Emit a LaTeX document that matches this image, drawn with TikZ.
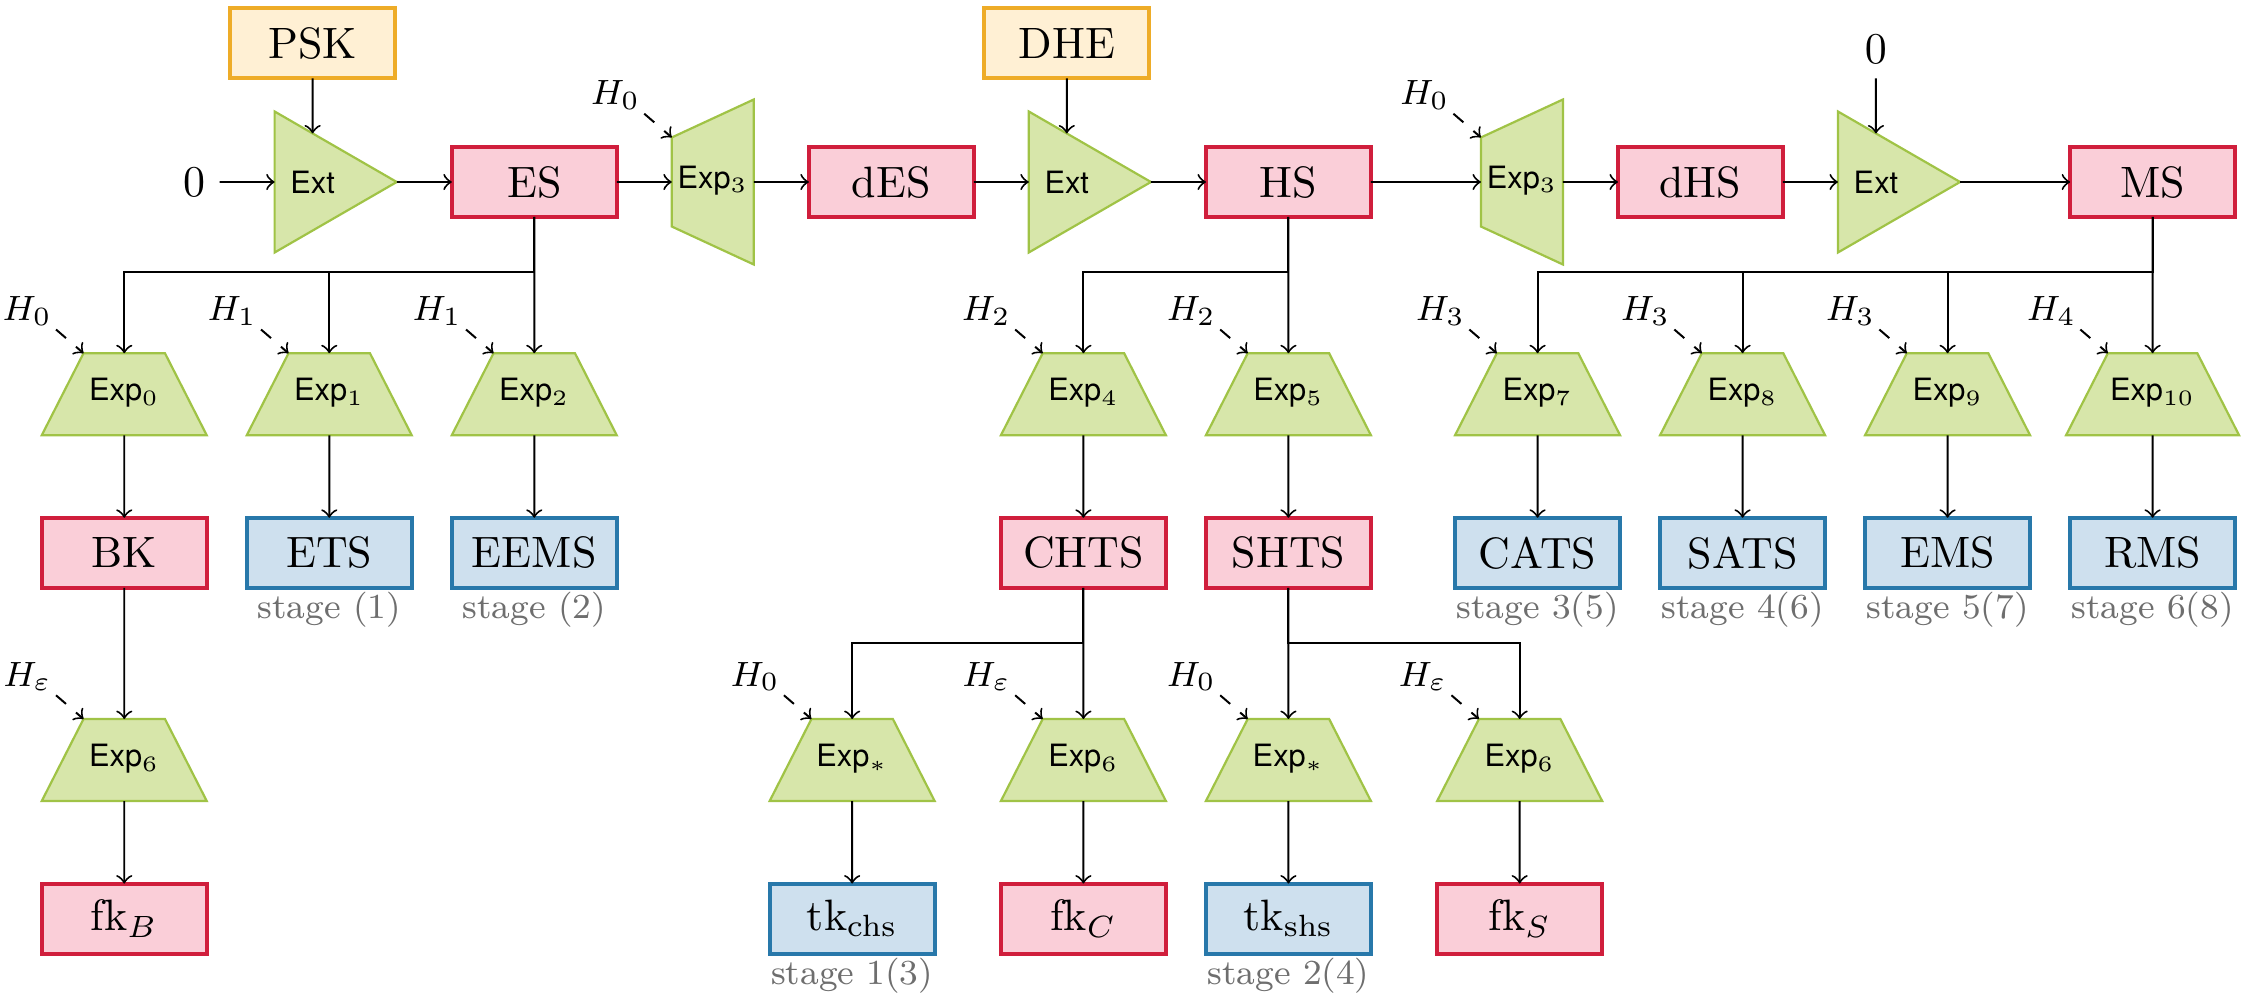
\documentclass[tikz,border=0pt]{standalone}
\usepackage{amsmath}
\usepackage{fontspec}
\setsansfont{TeX Gyre Heros}
\usepackage{tikz}
\usetikzlibrary{arrows,positioning,shapes.geometric}

\definecolor{infill}{RGB}{255,240,212}
\definecolor{indraw}{RGB}{238,172,40}
\definecolor{secfill}{RGB}{250,206,216}
\definecolor{secdraw}{RGB}{208,30,60}
\definecolor{trfill}{RGB}{206,224,238}
\definecolor{trdraw}{RGB}{40,120,170}
\definecolor{fnfill}{RGB}{215,230,170}
\definecolor{fndraw}{RGB}{160,195,70}
\definecolor{stgray}{RGB}{110,110,110}

\begin{document}
\begin{tikzpicture}[
	> = to, % arrow head style
	node distance = 0.44cm, % distance between nodes
	line width = 0.45pt, % line style
	every node/.style={outer sep=0pt},
	In/.style={rectangle, draw=indraw, fill=infill, line width=0.9pt, minimum width=1.32cm, minimum height=0.56cm},
	Sec/.style={In, draw=secdraw, fill=secfill},
	Tr/.style={In, draw=trdraw, fill=trfill},
	Ext/.style={isosceles triangle, isosceles triangle apex angle=60, draw=fndraw, fill=fnfill, line width=0.5pt, minimum width=0.977cm, minimum height=0.977cm, font=\scriptsize\sffamily},
	Exp/.style={trapezium, trapezium angle=63, trapezium stretches body, draw=fndraw, fill=fnfill, line width=0.5pt, text height=5pt, text depth=2pt, inner xsep=0.5pt, inner ysep=5.83pt, minimum width=1.32cm, minimum height=0.656cm, font=\scriptsize\sffamily},
	ExpR/.style={Exp, shape border rotate=90},
	Hl/.style={inner sep=1pt, font=\footnotesize},
	St/.style={inner sep=1pt, font=\footnotesize, text=stgray},
	]

	\useasboundingbox (-1.552,1.456) rectangle (16.456,-6.52);

	% Nodes of the main line
	\node (zero) {$0$};
	\node[Ext]  (ext1)  [right = of zero] {Ext};
	\node[In]   (psk)   [above = of ext1] {PSK};
	\node[Sec]  (es)    [right = of ext1] {ES};
	\node[ExpR] (exp3a) [right = of es] {Exp$_3$};
	\node[Sec]  (des)   [right = of exp3a] {dES};
	\node[Ext]  (ext2)  [right = of des] {Ext};
	\node[In]   (dhe)   [above = of ext2] {DHE};
	\node[Sec]  (hs)    [right = of ext2] {HS};
	\node[ExpR] (exp3b) [right = .88 of hs] {Exp$_3$};
	\node[Sec]  (dhs)   [right = of exp3b] {dHS};
	\node[Ext]  (ext3)  [right = of dhs] {Ext};
	\node       (zeroB) [above = of ext3] {$0$};
	\node[Sec]  (ms)    [right = .88 of ext3] {MS};

	% ES branch
	\node[Exp] (exp2)  [below = 1.09 of es] {Exp$_2$};
	\node[Tr]  (eems)  [below = .66 of exp2] {EEMS};
	\node[Tr]  (ets)   [left = .32 of eems] {ETS};
	\node[Sec] (bk)    [left = .32 of ets] {BK};
	\node[Exp] (exp1)  [above = .66 of ets] {Exp$_1$};
	\node[Exp] (exp0)  [above = .66 of bk] {Exp$_0$};
	\node[Exp] (exp6b) [below = 1.05 of bk] {Exp$_6$};
	\node[Sec] (fkb)   [below = .66 of exp6b] {fk$_B$};

	% HS branch
	\node[Exp] (exp5)  [below = 1.09 of hs] {Exp$_5$};
	\node[Sec] (shts)  [below = .66 of exp5] {SHTS};
	\node[Sec] (chts)  [left = .32 of shts] {CHTS};
	\node[Exp] (exp4)  [above = .66 of chts] {Exp$_4$};
	\node[Exp] (exp6c) [below = 1.05 of chts] {Exp$_6$};
	\node[Sec] (fkc)   [below = .66 of exp6c] {fk$_C$};
	\node[Tr]  (tkc)   [left = .53 of fkc] {tk$_{\text{chs}}$};
	\node[Exp] (expsc) [above = .66 of tkc] {Exp$_*$};
	\node[Exp] (expss) [below = 1.05 of shts] {Exp$_*$};
	\node[Tr]  (tks)   [below = .66 of expss] {tk$_{\text{shs}}$};
	\node[Sec] (fks)   [right = .53 of tks] {fk$_S$};
	\node[Exp] (exp6s) [above = .66 of fks] {Exp$_6$};

	% MS branch
	\node[Exp] (exp10) [below = 1.09 of ms] {Exp$_{10}$};
	\node[Tr]  (rms)   [below = .66 of exp10] {RMS};
	\node[Tr]  (ems)   [left = .32 of rms] {EMS};
	\node[Tr]  (sats)  [left = .32 of ems] {SATS};
	\node[Tr]  (cats)  [left = .32 of sats] {CATS};
	\node[Exp] (exp9)  [above = .66 of ems] {Exp$_9$};
	\node[Exp] (exp8)  [above = .66 of sats] {Exp$_8$};
	\node[Exp] (exp7)  [above = .66 of cats] {Exp$_7$};

	% Stages under the traffic keys
	\node[St] (st1)  [below = 0 of ets]  {stage (1)};
	\node[St] (st2)  [below = 0 of eems] {stage (2)};
	\node[St] (st13) [below = 0 of tkc]  {stage 1(3)};
	\node[St] (st24) [below = 0 of tks]  {stage 2(4)};
	\node[St] (st35) [below = 0 of cats] {stage 3(5)};
	\node[St] (st46) [below = 0 of sats] {stage 4(6)};
	\node[St] (st57) [below = 0 of ems]  {stage 5(7)};
	\node[St] (st68) [below = 0 of rms]  {stage 6(8)};

	% Labels of the expand steps
	\node[Hl] (hA) [above left = .19 and .22 of exp3a.top right corner] {$H_0$};
	\node[Hl] (hB) [above left = .19 and .22 of exp3b.top right corner] {$H_0$};
	\node[Hl] (h0) [above left = .19 and .22 of exp0.top left corner]  {$H_0$};
	\node[Hl] (h1) [above left = .19 and .22 of exp1.top left corner]  {$H_1$};
	\node[Hl] (h2) [above left = .19 and .22 of exp2.top left corner]  {$H_1$};
	\node[Hl] (h4) [above left = .19 and .22 of exp4.top left corner]  {$H_2$};
	\node[Hl] (h5) [above left = .19 and .22 of exp5.top left corner]  {$H_2$};
	\node[Hl] (h7) [above left = .19 and .22 of exp7.top left corner]  {$H_3$};
	\node[Hl] (h8) [above left = .19 and .22 of exp8.top left corner]  {$H_3$};
	\node[Hl] (h9) [above left = .19 and .22 of exp9.top left corner]  {$H_3$};
	\node[Hl] (h10) [above left = .19 and .22 of exp10.top left corner] {$H_4$};
	\node[Hl] (h6b) [above left = .19 and .22 of exp6b.top left corner] {$H_\varepsilon$};
	\node[Hl] (h6c) [above left = .19 and .22 of exp6c.top left corner] {$H_\varepsilon$};
	\node[Hl] (h6s) [above left = .19 and .22 of exp6s.top left corner] {$H_\varepsilon$};
	\node[Hl] (hsc) [above left = .19 and .22 of expsc.top left corner] {$H_0$};
	\node[Hl] (hss) [above left = .19 and .22 of expss.top left corner] {$H_0$};

	% Paths along the main line
	\path[->] (zero) edge (ext1);
	\path[->] (psk) edge (ext1);
	\path[->] (ext1) edge (es);
	\path[->] (es) edge (exp3a);
	\path[->] (exp3a) edge (des);
	\path[->] (des) edge (ext2);
	\path[->] (dhe) edge (ext2);
	\path[->] (ext2) edge (hs);
	\path[->] (hs) edge (exp3b);
	\path[->] (exp3b) edge (dhs);
	\path[->] (dhs) edge (ext3);
	\path[->] (zeroB) edge (ext3);
	\path[->] (ext3) edge (ms);

	% Branches down to the expand steps
	\draw[->] (es) -- (exp2);
	\draw[->] (es.south) -- ++(0,-.44) -| (exp1);
	\draw[->] (es.south) -- ++(0,-.44) -| (exp0);
	\draw[->] (hs) -- (exp5);
	\draw[->] (hs.south) -- ++(0,-.44) -| (exp4);
	\draw[->] (ms) -- (exp10);
	\draw[->] (ms.south) -- ++(0,-.44) -| (exp9);
	\draw[->] (ms.south) -- ++(0,-.44) -| (exp8);
	\draw[->] (ms.south) -- ++(0,-.44) -| (exp7);
	\draw[->] (bk) -- (exp6b);
	\draw[->] (chts) -- (exp6c);
	\draw[->] (chts.south) -- ++(0,-.44) -| (expsc);
	\draw[->] (shts) -- (expss);
	\draw[->] (shts.south) -- ++(0,-.44) -| (exp6s);

	% Expand steps to their keys
	\path[->] (exp0) edge (bk);
	\path[->] (exp1) edge (ets);
	\path[->] (exp2) edge (eems);
	\path[->] (exp4) edge (chts);
	\path[->] (exp5) edge (shts);
	\path[->] (exp7) edge (cats);
	\path[->] (exp8) edge (sats);
	\path[->] (exp9) edge (ems);
	\path[->] (exp10) edge (rms);
	\path[->] (exp6b) edge (fkb);
	\path[->] (expsc) edge (tkc);
	\path[->] (exp6c) edge (fkc);
	\path[->] (expss) edge (tks);
	\path[->] (exp6s) edge (fks);

	% Hash labels
	\path[->, dashed] (hA.south east) edge (exp3a.top right corner);
	\path[->, dashed] (hB.south east) edge (exp3b.top right corner);
	\path[->, dashed] (h0.south east) edge (exp0.top left corner);
	\path[->, dashed] (h1.south east) edge (exp1.top left corner);
	\path[->, dashed] (h2.south east) edge (exp2.top left corner);
	\path[->, dashed] (h4.south east) edge (exp4.top left corner);
	\path[->, dashed] (h5.south east) edge (exp5.top left corner);
	\path[->, dashed] (h7.south east) edge (exp7.top left corner);
	\path[->, dashed] (h8.south east) edge (exp8.top left corner);
	\path[->, dashed] (h9.south east) edge (exp9.top left corner);
	\path[->, dashed] (h10.south east) edge (exp10.top left corner);
	\path[->, dashed] (h6b.south east) edge (exp6b.top left corner);
	\path[->, dashed] (h6c.south east) edge (exp6c.top left corner);
	\path[->, dashed] (h6s.south east) edge (exp6s.top left corner);
	\path[->, dashed] (hsc.south east) edge (expsc.top left corner);
	\path[->, dashed] (hss.south east) edge (expss.top left corner);

\end{tikzpicture}
\end{document}
